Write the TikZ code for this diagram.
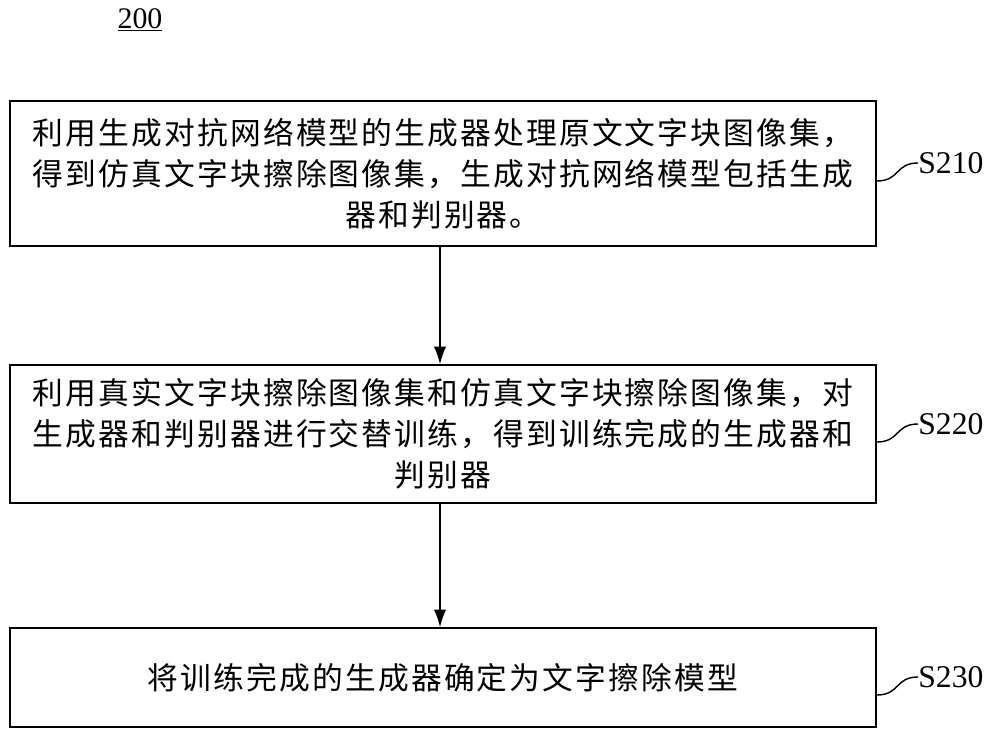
\documentclass[tikz,border=0pt]{standalone}
\usepackage{fontspec}
\usetikzlibrary{arrows.meta}
\setmainfont{Liberation Serif}
\newfontfamily\cjk[LetterSpace=7]{Noto Sans CJK SC}
\begin{document}
\begin{tikzpicture}[x=0.02cm,y=-0.02cm,
  box/.style={draw,line width=0.9pt,minimum width=17.32cm,align=center,font=\cjk\fontsize{17.5}{23.5}\selectfont,inner sep=0pt},
  lab/.style={font=\fontsize{18}{20}\selectfont,anchor=west,inner sep=0pt},
  arr/.style={-{Latex[length=10pt,width=7pt]},line width=0.9pt}]
\useasboundingbox (0,0) rectangle (1000,754);
\node[font=\fontsize{17}{20}\selectfont] (t) at (140,20) {\underline{200}};
\node[box,minimum height=2.9cm] (b1) at (443,173.5) {利用生成对抗网络模型的生成器处理原文文字块图像集，\\得到仿真文字块擦除图像集，生成对抗网络模型包括生成\\器和判别器。};
\node[box,minimum height=2.76cm] (b2) at (443,434) {利用真实文字块擦除图像集和仿真文字块擦除图像集，对\\生成器和判别器进行交替训练，得到训练完成的生成器和\\判别器};
\node[box,minimum height=1.98cm] (b3) at (443,677.5) {将训练完成的生成器确定为文字擦除模型};
\draw[arr] (b1.south -| 440,0) -- (b2.north -| 440,0);
\draw[arr] (b2.south -| 440,0) -- (b3.north -| 440,0);
\node[lab] (l1) at (918,163) {S210};
\node[lab] (l2) at (918,424) {S220};
\node[lab] (l3) at (918,677) {S230};
\draw[line width=0.8pt] (b1.east |- 0,181) .. controls (900,181) and (895,163) .. (l1.west);
\draw[line width=0.8pt] (b2.east |- 0,442) .. controls (900,442) and (895,424) .. (l2.west);
\draw[line width=0.8pt] (b3.east |- 0,695) .. controls (900,695) and (895,677) .. (l3.west);
\end{tikzpicture}
\end{document}
